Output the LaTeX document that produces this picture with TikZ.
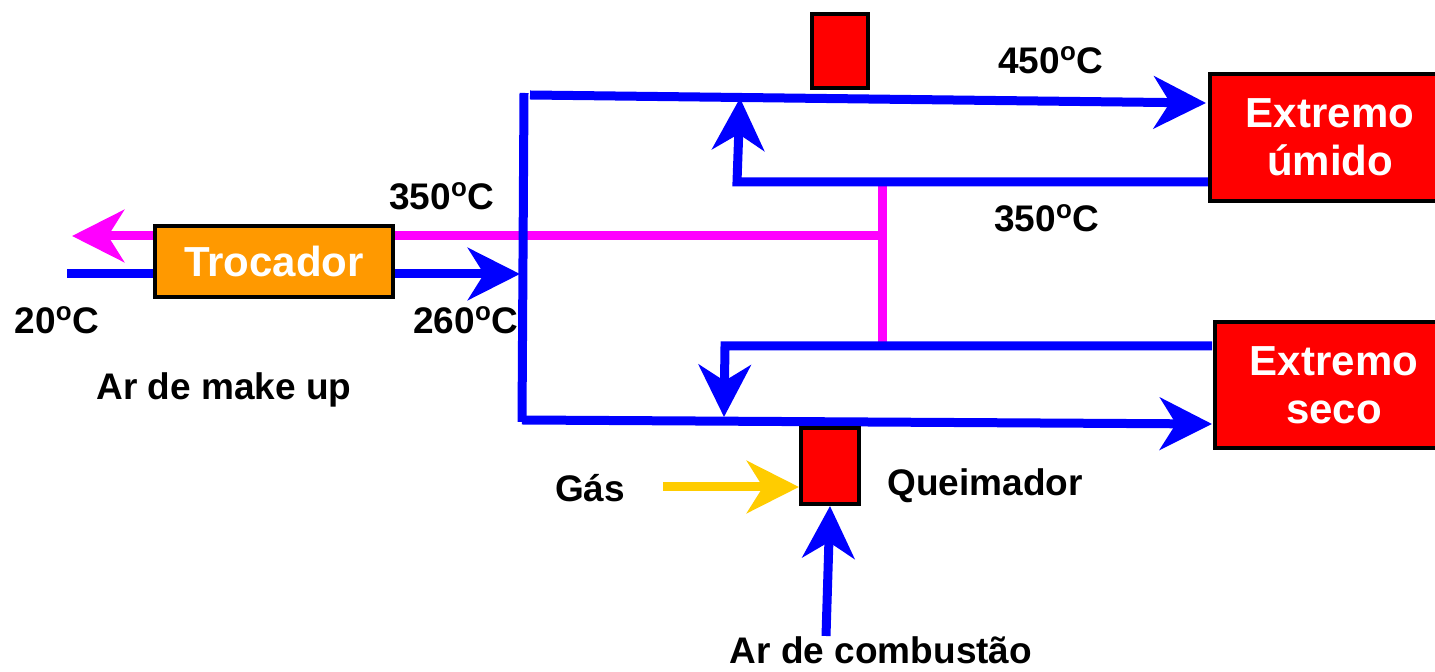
\documentclass[tikz,border=0pt]{standalone}
\usepackage{fontspec}
\setmainfont{Liberation Sans}
\usetikzlibrary{arrows.meta}
\definecolor{pblue}{HTML}{0000FF}
\definecolor{pmag}{HTML}{FF00FF}
\definecolor{pred}{HTML}{FF0000}
\definecolor{porange}{HTML}{FF9900}
\definecolor{pyellow}{HTML}{FFCC00}
\newcommand{\dg}{\textsuperscript{o}}
\begin{document}
\begin{tikzpicture}[x=0.5pt,y=-0.5pt,
  pipe/.style={line width=4.5pt, draw=pblue},
  hotpipe/.style={line width=4.5pt, draw=pmag},
  gaspipe/.style={line width=4.5pt, draw=pyellow},
  tip/.style={-{Stealth[length=26pt,width=26pt,inset=8pt]}},
  lab/.style={font=\bfseries\fontsize{18.5}{22}\selectfont, inner sep=0pt},
  unit/.style={draw=black, line width=2pt, inner sep=0pt, text=white,
    font=\bfseries\fontsize{21}{24}\selectfont, align=center},
  burner/.style={draw=black, line width=2pt, fill=pred, inner sep=0pt}]
\useasboundingbox (0,0) rectangle (1435,672);
\clip (0,0) rectangle (1435,672);

% units
\node[unit, fill=porange, minimum width=119pt, minimum height=35.5pt] (troc) at (274,261.5) {};
\node[unit, fill=pred, minimum width=120pt, minimum height=63.5pt] (eu) at (1330,137.5) {};
\node[unit, fill=pred, minimum width=119pt, minimum height=63pt] (es) at (1334,385) {};
\node[burner, minimum width=28pt, minimum height=37pt] (b1) at (840,51) {};
\node[burner, minimum width=29pt, minimum height=38pt] (qm) at (830,466) {};

% coordinates
\coordinate (hotR) at (882,236);
\coordinate (hotL) at (72,236);
\coordinate (hotT) at (882,183);
\coordinate (hotB) at (882,345);
\coordinate (mkin) at (67,274);
\coordinate (mkout) at (520,274);
\coordinate (vT) at (524,93);
\coordinate (vB) at (522,422);
\coordinate (tS) at (530,95);
\coordinate (tE) at (1206,103);
\coordinate (bS) at (522,420);
\coordinate (bE) at (1212,424);
\coordinate (r1a) at (1212,182);
\coordinate (r1b) at (737,182);
\coordinate (r1c) at (740,98);
\coordinate (r2a) at (1212,346);
\coordinate (r2b) at (725,346);
\coordinate (r2c) at (724,417);
\coordinate (gasS) at (663,487);
\coordinate (airS) at (826,636);

% hot exhaust (magenta)
\draw[hotpipe] (hotT) -- (hotB);
\draw[hotpipe, tip] (hotR) -- (hotL);

% blue air network
\draw[pipe, tip] (mkin) -- (mkout);
\draw[pipe] (vT) -- (vB);
\draw[pipe, tip] (tS) -- (tE);
\draw[pipe, tip] (bS) -- (bE);
\draw[pipe, tip] (r1a) -- (r1b) -- (r1c);
\draw[pipe, tip] (r2a) -- (r2b) -- (r2c);
\draw[pipe, tip] (airS) -- (qm.south);
\draw[gaspipe, tip] (gasS) -- (gasS -| qm.west);

% redraw units on top
\node[unit, fill=porange, minimum width=119pt, minimum height=35.5pt] at (troc) {Trocador};
\node[unit, fill=pred, minimum width=120pt, minimum height=63.5pt] at (eu) {Extremo\\úmido};
\node[unit, fill=pred, minimum width=119pt, minimum height=63pt] at (es) {Extremo\\seco};
\node[burner, minimum width=28pt, minimum height=37pt] at (b1) {};
\node[burner, minimum width=29pt, minimum height=38pt] at (qm) {};

% labels
\node[lab] (t450) at (1051,60) {450\dg C};
\node[lab] (t350r) at (1047,218) {350\dg C};
\node[lab] (t350l) at (442,196) {350\dg C};
\node[lab] (t20) at (57,320) {20\dg C};
\node[lab] (t260) at (466,320) {260\dg C};
\node[lab] (lmk) at (224,390) {Ar de make up};
\node[lab] (lgas) at (590,488) {Gás};
\node[lab] (lqm) at (985,486) {Queimador};
\node[lab] (lcomb) at (881,650) {Ar de combustão};
\end{tikzpicture}
\end{document}
